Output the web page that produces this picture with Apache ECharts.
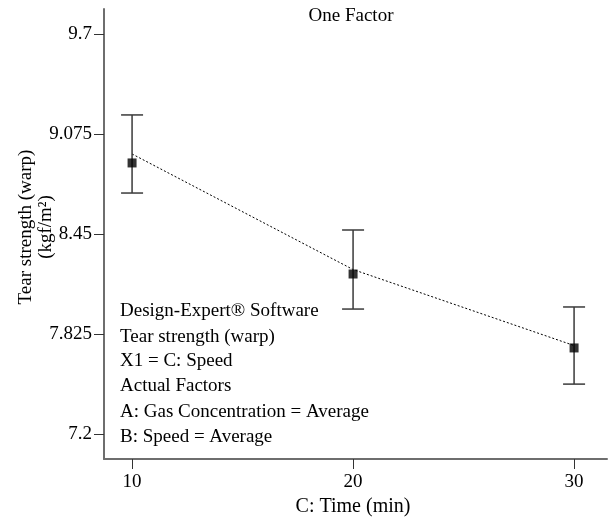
<!DOCTYPE html>
<html>
<head>
<meta charset="utf-8">
<script src="https://cdn.jsdelivr.net/npm/echarts@6/dist/echarts.min.js"></script>
<style>html,body{margin:0;padding:0;background:#fff}#c{width:610px;height:525px}</style>
</head>
<body>
<div id="c"></div>
<script>
var times = [10, 20, 30];
var predicted = [8.95, 8.228, 7.753];
var ciLow = [8.706, 7.981, 7.512];
var ciHigh = [9.194, 8.475, 7.994];
var observed = [8.894, 8.2, 7.738];
var xTicks = [10, 20, 30];
var yTicks = ['7.2', '7.825', '8.45', '9.075', '9.7'];
var chartTitle = 'One Factor';
var xName = 'C: Time (min)';
var yName = 'Tear strength (warp)\n(kgf/m\u00B2)';
var notes = ['Design-Expert\u00AE Software', 'Tear strength (warp)', 'X1 = C: Speed', 'Actual Factors', 'A: Gas Concentration = Average', 'B: Speed = Average'];

var FONT = '"Liberation Serif", "Times New Roman", serif';
var chart = echarts.init(document.getElementById('c'), null, {renderer: 'canvas'});

var lineData = times.map(function (t, i) { return [t, predicted[i]]; });
var barData = times.map(function (t, i) { return [t, ciLow[i], ciHigh[i]]; });
var obsData = times.map(function (t, i) { return [t, observed[i]]; });

var graphics = [
  {type: 'text', style: {text: chartTitle, x: 351, y: 16, align: 'center', verticalAlign: 'middle', font: '19px ' + FONT, fill: '#000'}},
  {type: 'text', style: {text: xName, x: 353, y: 507, align: 'center', verticalAlign: 'middle', font: '20px ' + FONT, fill: '#000'}},
  {type: 'text', x: 36, y: 227, rotation: Math.PI / 2, style: {text: yName, x: 0, y: 0, align: 'center', verticalAlign: 'middle', font: '19px ' + FONT, fill: '#000', lineHeight: 20}}
];
var noteY = [311, 337, 361, 386, 412, 437];
notes.forEach(function (n, i) {
  graphics.push({type: 'text', style: {text: n, x: 120, y: noteY[i], align: 'left', verticalAlign: 'middle', font: '19px ' + FONT, fill: '#000'}});
});

chart.setOption({
  animation: false,
  backgroundColor: '#fff',
  grid: {left: 104, right: 3, top: 9, bottom: 66, containLabel: false},
  xAxis: {
    type: 'value', min: 8.73, max: 31.49,
    splitLine: {show: false},
    axisLine: {show: true, onZero: false, lineStyle: {color: '#6e6e6e', width: 2}},
    axisTick: {show: true, customValues: xTicks, length: 10, inside: false, lineStyle: {color: '#333', width: 1}},
    axisLabel: {show: true, customValues: xTicks, margin: 14, color: '#000', fontFamily: FONT, fontSize: 19}
  },
  yAxis: {
    type: 'value', min: 7.044, max: 9.856,
    splitLine: {show: false},
    axisLine: {show: true, onZero: false, lineStyle: {color: '#6e6e6e', width: 2}},
    axisTick: {show: true, customValues: yTicks.map(Number), length: 10, lineStyle: {color: '#333', width: 1}},
    axisLabel: {show: true, customValues: yTicks.map(Number), margin: 12, color: '#000', fontFamily: FONT, fontSize: 19,
      formatter: function (v) { for (var i = 0; i < yTicks.length; i++) { if (Math.abs(Number(yTicks[i]) - v) < 1e-6) return yTicks[i]; } return String(v); }}
  },
  graphic: graphics,
  series: [
    {
      type: 'line', data: lineData, symbol: 'none', z: 2,
      lineStyle: {color: '#000', width: 1, type: [2, 2]}
    },
    {
      type: 'custom', data: barData, z: 3,
      renderItem: function (params, api) {
        var x = api.value(0);
        var lo = api.coord([x, api.value(1)]);
        var hi = api.coord([x, api.value(2)]);
        var hw = 11;
        var st = {stroke: '#3a3a3a', lineWidth: 1.5};
        return {type: 'group', children: [
          {type: 'line', shape: {x1: lo[0], y1: lo[1], x2: hi[0], y2: hi[1]}, style: st},
          {type: 'line', shape: {x1: hi[0] - hw, y1: hi[1], x2: hi[0] + hw, y2: hi[1]}, style: st},
          {type: 'line', shape: {x1: lo[0] - hw, y1: lo[1], x2: lo[0] + hw, y2: lo[1]}, style: st}
        ]};
      }
    },
    {
      type: 'scatter', data: obsData, symbol: 'rect', symbolSize: 9, z: 4,
      itemStyle: {color: '#000'}
    }
  ]
});
</script>
</body>
</html>
